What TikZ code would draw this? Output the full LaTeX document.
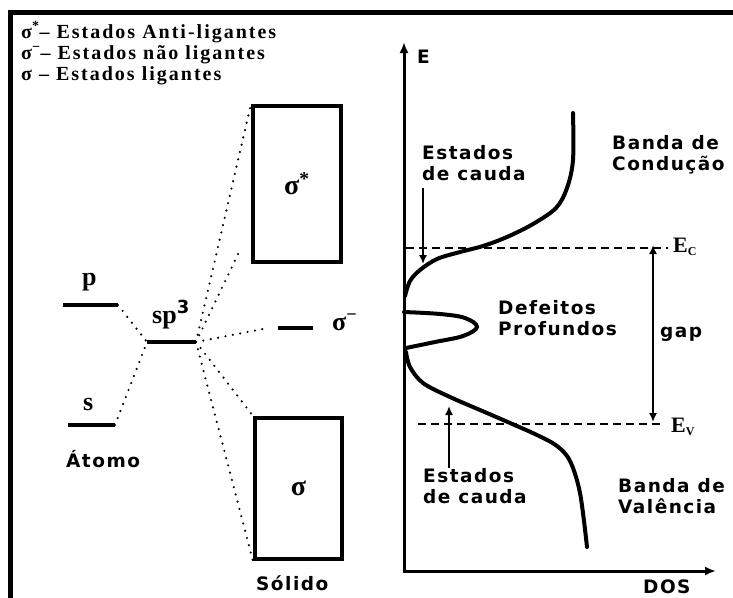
\documentclass[tikz,border=0pt]{standalone}
\usepackage{fontspec}
\setmainfont{Liberation Serif}
\newfontfamily\lblfont{DejaVu Sans}[LetterSpace=8]
\newfontfamily\legfont{Liberation Serif}[LetterSpace=10]
\usetikzlibrary{arrows.meta}
\begin{document}
\begin{tikzpicture}[x=1pt,y=-1pt,
  lbl/.style={font=\lblfont\bfseries\fontsize{18.5}{21}\selectfont, align=left, inner sep=0pt},
  leg/.style={font=\legfont\bfseries\fontsize{20}{21}\selectfont, inner sep=0pt, anchor=base west},
  lev/.style={font=\bfseries\fontsize{26}{28}\selectfont, inner sep=0pt, anchor=base west},
  level/.style={line width=3.5pt},
  dots/.style={line width=2.4pt, line cap=round, dash pattern=on 0pt off 7.5pt},
  box/.style={draw, line width=4pt, inner sep=0pt, font=\bfseries\fontsize{28}{30}\selectfont},
  axis/.style={line width=3pt, -{Latex[length=11pt,width=9pt]}},
  curve/.style={line width=4pt, line cap=round},
  dline/.style={line width=2pt, dash pattern=on 8pt off 5pt},
  thinarrow/.style={line width=1.6pt, -{Latex[length=9pt,width=8pt]}}
]
\useasboundingbox (0,0) rectangle (733,597);
\fill[white] (0,0) rectangle (733,597);
% frame
\draw[line width=5pt] (745,12.5) -- (10.5,12.5) -- (10.5,610);

% legend
\node[leg] (l1) at (21,38) {σ\textsuperscript{*}– Estados Anti-ligantes};
\node[leg] (l2) at (21,59) {σ\textsuperscript{−}– Estados não ligantes};
\node[leg] (l3) at (21,80) {σ – Estados ligantes};

% atom levels
\coordinate (pL) at (63,305); \coordinate (pR) at (118,305);
\coordinate (sL) at (68,425); \coordinate (sR) at (115,425);
\coordinate (hL) at (147,342); \coordinate (hR) at (196,342);
\coordinate (mL) at (278,328); \coordinate (mR) at (313,328);
\draw[level] (pL) -- (pR);
\draw[level] (sL) -- (sR);
\draw[level] (hL) -- (hR);
\draw[level] (mL) -- (mR);
\node[lev] (plab) at (82,285) {p};
\node[lev] (slab) at (83,410) {s};
\node[lev] (hlab) at (152,323) {sp\textsuperscript{\lblfont\bfseries\fontsize{18}{20}\selectfont 3}};
\node[lev, font=\bfseries\fontsize{26}{28}\selectfont] (mlab) at (332,330) {σ\textsuperscript{−}};
\node[lbl, anchor=base west] (atomo) at (66,467) {Átomo};

% boxes
\node[box, minimum width=88pt, minimum height=156pt] (bstar) at (297,184) {σ\textsuperscript{*}};
\node[box, minimum width=87pt, minimum height=141pt] (bsig) at (298.5,488.5) {σ};
\node[lbl, anchor=base west] (solido) at (256,590) {Sólido};

% dotted links
\draw[dots] (pR) -- (hL);
\draw[dots] (sR) -- (hL);
\draw[dots] (hR) -- (bstar.north west);
\draw[dots] (hR) -- ([xshift=-10pt,yshift=16pt]bstar.south west);
\draw[dots] (hR) -- ([xshift=-10pt]mL);
\draw[dots] (hR) -- (bsig.north west);
\draw[dots] (hR) -- (bsig.south west);

% axes
\coordinate (O) at (404,571);
\coordinate (Etop) at (404,42);
\coordinate (Dend) at (716,571);
\draw[axis] (O) -- (Etop);
\draw[axis] ([xshift=-1.5pt]O) -- (Dend);
\node[lbl, anchor=base west] (Elab) at (417,63) {E};
\node[lbl, anchor=base west] (DOS) at (643,593) {DOS};

% levels Ec, Ev
\coordinate (EcL) at (406,248); \coordinate (EcR) at (668,248);
\coordinate (EvL) at (418,424); \coordinate (EvR) at (662,424);
\draw[dline] (EcL) -- (EcR);
\draw[dline] (EvL) -- (EvR);
\node[lev, font=\bfseries\fontsize{22}{24}\selectfont, anchor=base west] (Ec) at (673,252) {E\textsubscript{\fontsize{12}{12}\selectfont C}};
\node[lev, font=\bfseries\fontsize{22}{24}\selectfont, anchor=base west] (Ev) at (671,432) {E\textsubscript{\fontsize{12}{12}\selectfont V}};

% gap arrow
\coordinate (gT) at (653,245); \coordinate (gB) at (653,422);
\draw[line width=1.6pt, {Latex[length=9pt,width=8pt]}-{Latex[length=9pt,width=8pt]}] (gT) -- (gB);
\node[lbl, anchor=base west] (gap) at (660,337) {gap};

% DOS curves
\draw[curve] plot[smooth, tension=0.55] coordinates {(573,113) (573,160) (567,188) (556,208) (533,224) (507,237) (483,246) (460,252) (437,259) (420,270) (410,281) (405,296)};
\draw[curve] plot[smooth, tension=0.6] coordinates {(404,312) (440,314) (465,318) (477,327) (463,336) (435,342) (406,348)};
\draw[curve] plot[smooth, tension=0.55] coordinates {(406,352) (410,367) (423,383) (450,397) (487,413) (510,423) (537,435) (557,446) (570,461) (580,493) (587,547)};

% labels
\node[lbl, anchor=north west] (ec1) at (422,145) {Estados\\de cauda};
\coordinate (a1s) at (423,188); \coordinate (a1e) at (423,264);
\draw[thinarrow] (a1s) -- (a1e);
\node[lbl, anchor=north west] (bc) at (612,135) {Banda de\\Condução};
\node[lbl, anchor=north west] (df) at (498,300) {Defeitos\\Profundos};
\node[lbl, anchor=north west] (ec2) at (423,468) {Estados\\de cauda};
\coordinate (a2s) at (449,468); \coordinate (a2e) at (449,406);
\draw[thinarrow] (a2s) -- (a2e);
\node[lbl, anchor=north west] (bv) at (618,478) {Banda de\\Valência};
\end{tikzpicture}
\end{document}
